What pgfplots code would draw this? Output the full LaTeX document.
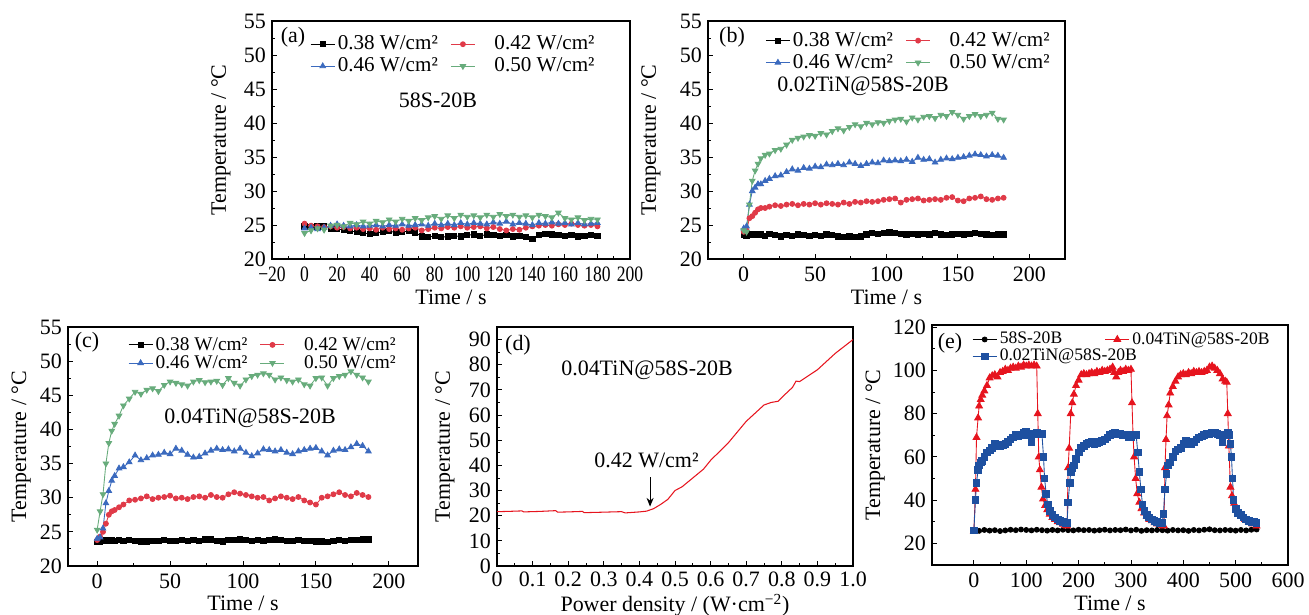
\documentclass[border=0pt]{standalone}
\usepackage{fontspec}
\setmainfont{Liberation Serif}
\usepackage{pgfplots}
\pgfplotsset{compat=1.18}
\usepackage{pgfplotstable}
\usetikzlibrary{arrows.meta}

\definecolor{cred}{RGB}{224,58,72}
\definecolor{cblue}{RGB}{59,106,190}
\definecolor{cgreen}{RGB}{104,172,124}
\definecolor{ered}{RGB}{230,20,30}
\definecolor{eblue}{RGB}{30,80,160}

\newcommand{\fs}{\fontsize{12.5}{14}\selectfont}
\newcommand{\fsa}{\fontsize{12}{14}\selectfont}
\newcommand{\fsc}{\fontsize{11}{13}\selectfont}
\newcommand{\fse}{\fontsize{10}{12}\selectfont}
\newcommand{\gap}{\hspace*{0.33cm}}

\pgfplotsset{
  panel/.style={
    scale only axis,
    axis line style={line width=0.6pt},
    tick align=inside,
    xtick pos=bottom, ytick pos=left,
    major tick length=0.1cm, minor tick length=0.06cm,
    every tick/.style={black, line width=0.5pt},
    minor x tick num=1, minor y tick num=1,
    /pgf/number format/assume math mode=true,
    tick label style={font=\fs},
    label style={font=\fs},
    xticklabel shift=0.04cm,
    ylabel={Temperature / °C},
    legend style={draw=none, fill=none, legend columns=2, font=\fsa,
      inner sep=0pt, anchor=north west, row sep=0pt,
      nodes={inner sep=1.5pt},
      /tikz/every even column/.append style={column sep=0.2cm}},
    legend cell align=left,
    legend image code/.code={\draw[mark repeat=2,mark phase=2,##1] plot coordinates {(0cm,0cm) (0.24cm,0cm) (0.48cm,0cm)};},
  },
  sk/.style={black, line width=0.5pt, mark=square*, mark size=1.5pt},
  sr/.style={cred, line width=0.5pt, mark=*, mark size=1.4pt},
  sb/.style={cblue, line width=0.5pt, mark=triangle*, mark size=1.8pt},
  sg/.style={cgreen, line width=0.5pt, mark=triangle*, mark size=1.8pt, mark options={rotate=180}},
}

\pgfplotstableread{
t   k    r    b    g
0   24.8 25.2 24.5 23.8
4   24.7 24.9 24.6 24.2
8   24.8 24.8 24.4 24.5
12  24.9 24.7 24.6 24.3
16  24.4 24.8 24.9 24.9
20  24.4 24.6 25.1 25.0
24  24.3 24.7 24.9 24.8
28  24.1 24.5 24.8 25.3
32  24.0 24.6 25.0 25.1
36  23.8 24.4 24.8 25.5
40  23.7 24.5 24.9 25.2
44  23.8 24.3 25.0 25.6
48  24.0 24.6 24.8 25.4
52  24.1 24.4 25.0 25.8
56  23.9 24.5 24.9 25.5
60  24.0 24.3 25.1 25.9
64  24.1 24.5 24.9 25.6
68  23.9 24.6 25.0 26.0
72  23.3 24.2 25.1 25.7
76  23.2 24.4 24.9 26.1
80  23.4 24.6 25.2 26.3
84  23.2 24.5 25.0 25.9
88  23.3 24.7 25.2 26.4
92  23.4 24.6 25.0 26.0
96  23.3 24.8 25.3 26.5
100 23.5 24.6 25.1 26.2
104 23.6 24.7 25.3 26.4
108 23.4 24.8 25.2 26.1
112 23.6 24.5 25.1 26.5
116 23.5 24.7 25.4 26.2
120 23.4 24.4 25.2 26.6
124 23.5 24.2 25.5 26.3
128 23.3 24.4 25.1 26.5
132 23.4 24.3 25.3 26.2
136 23.2 24.6 25.2 26.4
140 23.0 24.8 25.0 26.1
144 23.5 24.9 25.3 26.5
148 23.7 25.0 25.2 26.3
152 23.6 24.9 25.4 26.1
156 23.5 25.1 25.2 26.8
160 23.4 25.0 25.3 26.0
164 23.5 25.2 25.1 25.8
168 23.3 25.0 25.3 26.1
172 23.4 24.9 25.1 25.7
176 23.5 25.0 25.2 25.9
180 23.4 24.8 25.3 25.8
}\tabA

\pgfplotstableread{
t   k    r    b    g
0   23.5 24.0 24.5 24.2
2   23.4 24.2 24.8 24.0
4   23.6 26.0 28.0 28.0
6   23.5 26.3 30.0 31.5
8   23.6 26.8 30.5 33.0
10  23.5 27.3 31.0 34.0
12  23.6 27.5 31.0 34.8
15  23.4 27.5 31.5 35.3
18  23.7 27.7 31.8 35.5
22  23.5 27.9 32.2 36.0
26  23.3 27.8 32.3 36.2
30  23.5 28.0 32.8 36.8
34  23.4 28.1 33.2 37.5
38  23.6 27.9 33.0 37.8
42  23.5 28.1 33.4 38.0
46  23.4 28.0 33.3 38.2
50  23.5 28.2 33.6 38.1
54  23.4 28.0 33.5 38.5
58  23.6 28.2 33.9 38.3
62  23.5 28.1 33.8 38.8
66  23.3 28.0 34.0 39.2
70  23.2 28.3 33.8 38.9
74  23.3 28.1 34.2 39.4
78  23.2 28.4 34.0 39.8
82  23.3 28.3 33.7 39.5
86  23.6 28.5 34.0 40.0
90  23.8 28.4 34.2 39.8
94  23.7 28.5 34.1 40.1
98  23.8 28.7 34.5 40.0
102 23.9 28.8 34.4 40.3
106 23.8 28.9 34.5 40.5
110 23.7 28.3 34.4 40.6
114 23.6 28.7 34.6 40.2
118 23.7 28.8 34.3 40.8
122 23.6 28.9 34.9 40.5
126 23.7 28.6 34.6 40.9
130 23.6 28.7 34.7 41.0
134 23.8 28.8 34.2 40.7
138 23.6 28.7 34.6 41.2
142 23.5 29.0 34.8 41.0
146 23.6 29.1 34.7 41.6
150 23.7 28.6 34.9 41.2
154 23.6 28.5 35.0 40.6
158 23.7 28.9 35.2 41.0
162 23.8 29.0 35.4 41.3
166 23.7 29.2 35.3 41.0
170 23.6 28.8 35.1 41.2
174 23.5 28.7 35.3 41.5
178 23.6 28.9 35.2 40.6
182 23.6 29.0 34.9 40.5
}\tabB

\pgfplotstableread{
t   k    r    b    g
0   23.5 23.8 24.0 25.3
2   23.6 24.3 24.2 28.0
4   23.7 25.0 25.5 30.5
6   23.8 26.2 29.2 35.0
8   23.7 27.5 31.0 38.0
10  23.8 28.0 32.5 39.8
12  23.7 28.2 33.2 40.8
15  23.8 28.6 34.3 42.0
18  23.7 29.0 34.5 43.5
22  23.8 29.6 35.2 44.5
26  23.7 29.7 36.2 45.5
30  23.6 29.9 35.5 45.2
34  23.6 30.2 35.8 45.8
38  23.7 29.8 36.2 46.0
42  23.7 30.0 36.3 45.6
46  23.8 30.1 36.6 46.5
50  23.7 30.3 36.4 47.0
54  23.7 29.9 37.2 46.8
58  23.8 30.0 36.9 46.6
62  23.7 29.8 36.3 46.4
66  23.8 30.1 35.9 47.0
70  23.7 30.2 36.0 47.2
74  23.9 30.0 36.5 46.9
78  23.9 30.4 36.9 47.0
82  23.7 30.1 37.2 47.1
86  23.6 30.0 37.0 46.5
90  23.8 30.5 37.1 47.5
94  23.8 30.8 36.8 46.8
98  23.9 30.6 37.2 46.4
102 23.8 30.4 36.6 47.3
106 23.7 30.2 36.1 47.8
110 23.8 30.0 36.5 48.0
114 23.7 30.1 37.1 48.2
118 23.8 29.6 37.0 48.0
122 23.9 29.9 36.8 47.3
126 23.8 30.2 37.0 47.6
130 23.7 30.0 36.6 47.2
134 23.7 29.8 36.4 47.0
138 23.8 30.1 36.8 47.3
142 23.7 29.6 37.0 46.6
146 23.7 29.3 37.2 46.4
150 23.6 29.0 37.3 47.5
154 23.6 30.0 36.8 47.6
158 23.5 30.2 36.2 46.4
162 23.7 30.5 36.9 47.5
166 23.8 30.8 37.1 47.8
170 23.7 30.4 37.0 48.0
174 23.8 30.2 37.4 48.5
178 23.8 30.7 37.9 48.0
182 23.9 30.4 37.6 47.6
186 23.9 30.1 36.8 47.0
}\tabC

\pgfplotstableread{
p     T
0     21.6
0.03  21.7
0.07  21.9
0.075 21.5
0.12  21.7
0.165 22.0
0.17  21.4
0.20  21.5
0.24  21.7
0.245 21.2
0.30  21.4
0.35  21.6
0.36  21.1
0.40  21.5
0.42  21.8
0.44  22.8
0.46  24.5
0.48  26.5
0.50  30.0
0.52  31.5
0.55  35.0
0.58  38.5
0.60  42.0
0.65  49.0
0.70  57.5
0.75  64.0
0.77  65.0
0.79  65.5
0.80  67.0
0.83  71.0
0.84  73.5
0.85  73.3
0.90  78.0
0.95  84.5
1.00  90.0
}\tabD

\pgfplotstableread{
t T
0 26.0
10 25.8
20 26.2
30 25.9
40 26.1
50 25.7
60 26.0
70 26.3
80 26.1
90 26.4
100 26.2
110 26.0
120 26.3
130 26.1
140 25.9
150 26.2
160 26.0
170 26.3
180 26.1
190 26.0
200 26.3
210 26.1
220 26.2
230 25.9
240 26.1
250 26.3
260 26.0
270 26.2
280 26.1
290 26.4
300 26.0
310 26.3
320 25.8
330 26.1
340 26.0
350 26.2
360 26.1
370 25.9
380 26.2
390 26.0
400 26.1
410 25.8
420 26.2
430 26.0
440 26.3
450 26.5
460 26.1
470 26.0
480 26.2
490 26.1
500 25.9
510 26.2
520 26.0
530 26.3
540 26.4
}\tabEk

\pgfplotstableread{
t T
0 25.5
3 45
5 69
8 78
10 83.5
13 86.5
16 88.5
20 90.5
25 93
30 96.5
35 97.5
40 98
45 97
50 99
55 99.5
60 100.5
65 100
70 101
75 101.5
80 101
85 102
90 101.5
95 102.5
100 102
105 102.5
110 102
115 102.5
120 102
122 80
124 60
126 54
129 46
132 40.5
136 37.5
140 35.5
145 33.5
150 32
155 31
160 30
165 29.5
170 28.8
175 28.3
178 28
180 55
182 64
185 80
188 85
191 89
195 93
200 95.5
205 98
210 98.5
215 98
220 98.5
225 99
230 98.5
235 99.5
240 99
245 100
250 99.5
255 100
260 100.5
265 101.5
268 99
272 97
276 99
280 100
285 99.5
290 100.5
295 100
300 100.5
302 85
304 70
306 60
309 50
312 43
316 39
320 36
325 34
330 32.5
335 31
340 30.5
345 29.5
350 29
355 28.8
360 28.3
363 28
365 55
367 68
369 79
372 84
375 89.5
380 92.5
385 95
390 97
395 98
400 98.5
405 98
410 99
415 98.5
420 99.5
425 99
430 99.5
435 99
440 99.5
445 100
450 101.5
455 102
460 101
465 100
470 98.5
475 96
480 95
483 94.5
485 80
487 65
490 46
493 42
497 38.5
502 36
507 34
512 32.5
518 31
525 30
532 29
540 28
}\tabEr

\pgfplotstableread{
t T
0 26
3 40
5 48
8 54
10 56
13 57.5
16 58
20 60
25 62
30 63
35 64
40 66
45 65.5
50 65
55 65.5
60 66
65 67
70 68
75 69
80 70
85 69.5
90 70
95 71
100 71.5
105 70
110 67
115 70.5
120 71
125 70.5
130 70.5
133 60
135 50
138 43
141 38
145 35
150 33
155 32
160 31
165 30.5
170 30
175 29.5
178 29.5
180 39
183 48
185 53
188 55
191 56
195 59
200 62
205 64
210 65
215 66
220 66.5
225 67
230 66
235 66.5
240 67
245 67.5
250 68
255 69
260 70
265 70.5
270 71
275 70.5
280 70.5
285 70
290 70
295 69
300 69
305 70
310 70
313 62
316 53
319 45
322 38
326 35
330 33
335 32
340 31
345 30.5
350 30
355 29.5
360 29.5
362 33.5
365 45
368 52
371 56
375 57.5
380 60
385 62.5
390 63.5
395 64
400 66
405 67.5
410 67
415 66
420 67
425 68
430 69
435 69.5
440 70
445 70.5
450 70.5
455 71
460 71
465 70.5
470 70
475 67
480 70
485 71
488 70
490 66
492 60
494 50
496 40
500 36
505 34
510 33
515 32
520 31
525 30.5
530 30
535 29.8
540 29.5
}\tabEb

\begin{document}
\begin{tikzpicture}
\path[use as bounding box] (0,0) rectangle (26.18,12.3);

% (a)
\begin{axis}[panel, at={(5.44cm,7.12cm)}, anchor=south west,
  width=7.16cm, height=4.76cm,
  xmin=-20, xmax=200, ymin=20, ymax=55,
  xtick={-20,0,20,...,200},
  xticklabels={−20,0,20,40,60,80,100,120,140,160,180,200},
  xticklabel style={xscale=0.8},
  ytick={20,25,...,55},
  xlabel={Time / s},
  ylabel style={at={(axis description cs:-0.1425,0.5)}, anchor=center},
  xlabel style={at={(axis description cs:0.5,-0.16)}, anchor=center},
  legend style={at={(0.106,0.95)}},
]
\addplot[sk] table[x=t,y=k] {\tabA}; \addlegendentry{0.38 W/cm²}
\addplot[sr] table[x=t,y=r] {\tabA}; \addlegendentry{\gap 0.42 W/cm²}
\addplot[sb] table[x=t,y=b] {\tabA}; \addlegendentry{0.46 W/cm²}
\addplot[sg] table[x=t,y=g] {\tabA}; \addlegendentry{\gap 0.50 W/cm²}
\end{axis}

% (b)
\begin{axis}[panel, at={(14.16cm,7.12cm)}, anchor=south west,
  width=7.14cm, height=4.76cm,
  xmin=-25, xmax=225, ymin=20, ymax=55,
  xtick={0,50,...,200}, ytick={20,25,...,55},
  xlabel={Time / s},
  ylabel style={at={(axis description cs:-0.16,0.5)}, anchor=center},
  xlabel style={at={(axis description cs:0.5,-0.16)}, anchor=center},
  legend style={at={(0.16,0.965)}},
]
\addplot[sk] table[x=t,y=k] {\tabB}; \addlegendentry{0.38 W/cm²}
\addplot[sr] table[x=t,y=r] {\tabB}; \addlegendentry{\gap 0.42 W/cm²}
\addplot[sb] table[x=t,y=b] {\tabB}; \addlegendentry{0.46 W/cm²}
\addplot[sg] table[x=t,y=g] {\tabB}; \addlegendentry{\gap 0.50 W/cm²}
\end{axis}

% (c)
\begin{axis}[panel, at={(1.36cm,0.98cm)}, anchor=south west,
  width=7.0cm, height=4.78cm,
  xmin=-20, xmax=220, ymin=20, ymax=55,
  xtick={0,50,...,200}, ytick={20,25,...,55},
  xlabel={Time / s},
  ylabel style={at={(axis description cs:-0.134,0.5)}, anchor=center},
  xlabel style={at={(axis description cs:0.5,-0.155)}, anchor=center},
  legend style={at={(0.171,0.97)}, font=\fsc, row sep=-1.5pt},
]
\addplot[sk] table[x=t,y=k] {\tabC}; \addlegendentry{0.38 W/cm²}
\addplot[sr] table[x=t,y=r] {\tabC}; \addlegendentry{\gap 0.42 W/cm²}
\addplot[sb] table[x=t,y=b] {\tabC}; \addlegendentry{0.46 W/cm²}
\addplot[sg] table[x=t,y=g] {\tabC}; \addlegendentry{\gap 0.50 W/cm²}
\end{axis}

% (d)
\begin{axis}[panel, at={(9.94cm,0.98cm)}, anchor=south west,
  width=7.12cm, height=4.78cm,
  xmin=0, xmax=1, ymin=0, ymax=95,
  xtick={0,0.1,0.2,0.3,0.4,0.5,0.6,0.7,0.8,0.9,1.0},
  xticklabels={0,0.1,0.2,0.3,0.4,0.5,0.6,0.7,0.8,0.9,1.0},
  xticklabel shift=0pt,
  ytick={0,10,...,90},
  xlabel={Power density / (W·cm\textsuperscript{−2})},
  ylabel style={at={(axis description cs:-0.146,0.5)}, anchor=center},
  xlabel style={at={(axis description cs:0.5,-0.165)}, anchor=center},
]
\addplot[ered, line width=0.6pt] table[x=p,y=T] {\tabD};
\draw[-{Stealth[length=5pt,width=4pt]}, line width=0.6pt] (axis cs:0.43,35.3) -- (axis cs:0.43,23.6);
\node[font=\fs] at (axis cs:0.42,42) {0.42 W/cm²};
\end{axis}

% (e)
\begin{axis}[panel, at={(18.64cm,1.0cm)}, anchor=south west,
  width=7.12cm, height=4.8cm,
  xmin=-80, xmax=600, ymin=10, ymax=121,
  xtick={0,100,...,600}, ytick={20,40,...,120},
  xlabel={Time / s},
  ylabel style={at={(axis description cs:-0.16,0.5)}, anchor=center},
  xlabel style={at={(axis description cs:0.5,-0.158)}, anchor=center},
  legend style={at={(0.112,0.982)}, font=\fse, row sep=-1.5pt,
    /tikz/every even column/.append style={column sep=0.8cm}},
]
\addplot[black, line width=0.5pt, mark=*, mark size=1.4pt] table[x=t,y=T] {\tabEk}; \addlegendentry{58S-20B}
\addplot[ered, line width=0.5pt, mark=triangle*, mark size=2.2pt] table[x=t,y=T] {\tabEr}; \addlegendentry{0.04TiN@58S-20B}
\addplot[eblue, line width=0.5pt, mark=square*, mark size=1.9pt] table[x=t,y=T] {\tabEb}; \addlegendentry{\rlap{0.02TiN@58S-20B}}
\end{axis}

% annotations
\node[font=\fs] at (5.86,11.56) {(a)};
\node[font=\fs] at (8.76,10.30) {58S-20B};
\node[font=\fs] at (14.64,11.56) {(b)};
\node[font=\fs] at (17.26,10.58) {0.02TiN@58S-20B};
\node[font=\fs] at (1.74,5.46) {(c)};
\node[font=\fs] at (5.0,3.94) {0.04TiN@58S-20B};
\node[font=\fs] at (10.36,5.40) {(d)};
\node[font=\fs] at (12.94,4.90) {0.04TiN@58S-20B};
\node[font=\fs] at (19.0,5.44) {(e)};
\end{tikzpicture}
\end{document}
